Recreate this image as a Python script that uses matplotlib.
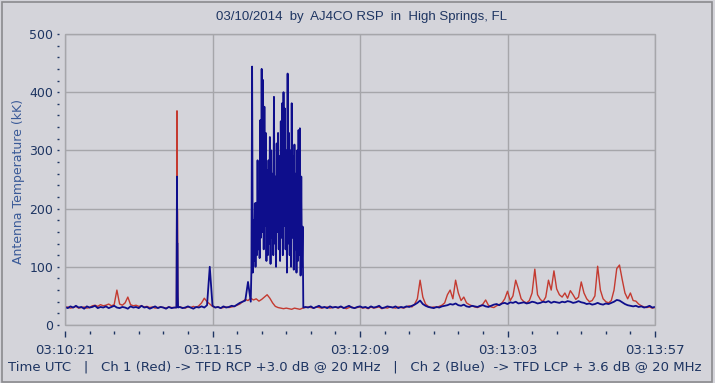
import numpy as np
import matplotlib
matplotlib.use('Agg')
import matplotlib.pyplot as plt
from matplotlib.patches import Rectangle
from matplotlib.ticker import MultipleLocator

# --- data: seconds after 03:10:21 UTC, 1 s grid ---
grid_t = np.arange(0, 217)

ch1_red = [
    30, 31, 29, 30, 32, 29, 30, 31, 29, 30,
    33, 34, 32, 35, 33, 34, 36, 33, 35, 60,
    36, 34, 38, 48, 35, 33, 34, 32, 33, 31,
    32, 30, 31, 29, 30, 31, 30, 29, 31, 30,
    30, 31, 31, 30, 29, 31, 30, 32, 30, 33,
    38, 46, 40, 36, 32, 30, 31, 29, 30, 31,
    30, 31, 32, 34, 36, 40, 44, 42, 46, 43,
    45, 41, 44, 48, 52, 46, 38, 32, 30, 29,
    28, 29, 28, 27, 29, 28, 27, 29, 30, 31,
    30, 29, 31, 30, 29, 30, 31, 29, 30, 31,
    29, 31, 30, 28, 30, 31, 29, 30, 31, 29,
    30, 28, 31, 29, 30, 31, 28, 30, 29, 31,
    30, 29, 31, 30, 29, 31, 33, 31, 36, 45,
    77, 48, 36, 32, 30, 31, 30, 32, 34, 38,
    52, 60, 45, 77, 55, 42, 48, 38, 35, 33,
    31, 30, 32, 36, 43, 34, 31, 30, 33, 35,
    38, 45, 58, 42, 50, 77, 62, 45, 40, 38,
    42, 55, 96, 52, 44, 40, 48, 77, 60, 93,
    62, 52, 48, 55, 46, 59, 52, 44, 48, 74,
    55, 45, 40, 42, 50, 101, 60, 45, 40, 38,
    42, 60, 97, 103, 78, 55, 45, 55, 42, 41,
    36, 33, 31, 30, 31, 29, 30,
]

ch2_blue = [
    31, 29, 32, 30, 33, 30, 31, 28, 32, 30,
    31, 33, 29, 31, 30, 32, 29, 31, 33, 30,
    29, 31, 30, 28, 32, 30, 31, 29, 33, 30,
    31, 28, 30, 32, 29, 31, 30, 28, 31, 29,
    30, 31, 31, 29, 30, 32, 30, 28, 31, 30,
    32, 30, 34, 100, 33, 30, 31, 29, 32, 30,
    31, 33, 32, 35, 38, 40, 42, 74, 40, 40,
    40, 40, 40, 40, 40, 40, 40, 40, 40, 40,
    40, 40, 40, 40, 40, 40, 40, 40, 31, 30,
    32, 29, 31, 33, 30, 31, 29, 32, 30, 31,
    30, 32, 29, 31, 33, 30, 29, 31, 32, 30,
    31, 29, 32, 30, 31, 33, 29, 30, 32, 31,
    30, 32, 29, 31, 30, 32, 31, 33, 35, 38,
    42, 36, 33, 31, 30, 29, 31, 30, 32, 33,
    34, 36, 35, 37, 34, 33, 35, 32, 31, 33,
    32, 31, 33, 34, 32, 31, 33, 35, 36, 34,
    37, 38, 36, 39, 38, 40, 37, 38, 39, 37,
    38, 40, 39, 37, 38, 40, 39, 41, 38, 40,
    39, 38, 40, 39, 41, 40, 38, 39, 41, 39,
    38, 36, 37, 35, 36, 38, 36, 35, 37, 36,
    38, 40, 43, 42, 39, 36, 34, 33, 32, 33,
    31, 32, 30, 31, 33, 30, 31,
]

# fine-sampled events (override the 1 s grid inside their windows)
spike_t = [40.8, 40.9, 41.0, 41.1, 41.2, 41.3, 41.4]
spike_red = [30, 200, 368, 200, 195, 60, 31]
spike_blue = [30, 140, 255, 140, 140, 50, 30]

burst_t = np.arange(68.0, 87.5, 0.25)
burst_blue = [
    40, 95, 444, 90, 180, 110, 209, 100, 210, 120, 283, 130,
    230, 115, 352, 150, 440, 160, 421, 130, 375, 170, 330, 110,
    266, 120, 283, 140, 323, 105, 300, 150, 260, 120, 392, 140,
    255, 100, 312, 160, 330, 130, 290, 110, 350, 150, 381, 120,
    400, 170, 372, 130, 300, 90, 432, 140, 330, 120, 300, 100,
    381, 150, 290, 95, 310, 130, 260, 90, 300, 110, 335, 120,
    338, 85, 255, 100, 169, 30,
]

x_labels = ['03:10:21', '03:11:15', '03:12:09', '03:13:03', '03:13:57']

BG = '#D4D4DA'
NAVY = '#1E3562'
GRID = '#A6A6AA'


def merge(t_base, v_base, events):
    t = np.asarray(t_base, float)
    v = np.asarray(v_base, float)
    for et, ev in events:
        et = np.asarray(et, float)
        keep = (t < et.min()) | (t > et.max())
        t = np.concatenate([t[keep], et])
        v = np.concatenate([v[keep], np.asarray(ev, float)])
        order = np.argsort(t, kind='stable')
        t, v = t[order], v[order]
    return t, v


t_red, v_red = merge(grid_t, ch1_red, [(spike_t, spike_red)])
t_blue, v_blue = merge(grid_t, ch2_blue, [(spike_t, spike_blue), (burst_t, burst_blue)])

fig = plt.figure(figsize=(7.15, 3.83), dpi=100, facecolor=BG)
ax = fig.add_axes([65 / 715, 58 / 383, 590 / 715, 291 / 383])
ax.set_facecolor(BG)

ax.plot(t_red, v_red, color='#C43A30', lw=1.0, zorder=3)
ax.plot(t_blue, v_blue, color='#0E0E8C', lw=1.3, zorder=4)

ax.set_xlim(0, 216)
ax.set_ylim(0, 500)
ax.set_xticks([0, 54, 108, 162, 216])
ax.set_xticklabels(x_labels)
ax.xaxis.set_minor_locator(MultipleLocator(9))
ax.set_yticks(range(0, 501, 100))
ax.yaxis.set_minor_locator(MultipleLocator(20))
ax.grid(which='major', color=GRID, lw=1.0, zorder=1)

# ticks sit a few pixels away from the plot frame
for side in ['left', 'bottom']:
    ax.spines[side].set_position(('outward', 4))
for s in ax.spines.values():
    s.set_visible(False)
ax.add_patch(Rectangle((0, 0), 1, 1, transform=ax.transAxes, fill=False,
                       ec=GRID, lw=1.0, clip_on=False, zorder=5))

ax.tick_params(axis='x', which='major', direction='out', length=4, width=1,
               color=NAVY, pad=6, labelsize=9.5, labelcolor=NAVY)
ax.tick_params(axis='x', which='minor', direction='out', length=2, width=1,
               color=NAVY)
ax.tick_params(axis='y', which='major', direction='out', length=1.5, width=1,
               color=NAVY, pad=3, labelsize=9, labelcolor=NAVY)
ax.tick_params(axis='y', which='minor', direction='out', length=1.8, width=1,
               color=NAVY)

fig.text(0.505, 0.956, '03/10/2014  by  AJ4CO RSP  in  High Springs, FL',
         ha='center', va='center', fontsize=9.5, color=NAVY, family='Liberation Sans')
fig.text(19 / 715, 0.525, 'Antenna Temperature (kK)', rotation=90,
         ha='center', va='center', fontsize=9, color='#3A5A98')
fig.text(8 / 715, 1 - 367 / 383,
         'Time UTC   |   Ch 1 (Red) -> TFD RCP +3.0 dB @ 20 MHz   |   '
         'Ch 2 (Blue)  -> TFD LCP + 3.6 dB @ 20 MHz',
         ha='left', va='center', fontsize=9.55, color=NAVY)

fig.patches.append(Rectangle((2 / 715, 1 / 383), 710 / 715, 380 / 383,
                             transform=fig.transFigure, fill=False,
                             ec='#8A8A8E', lw=1.2))

fig.savefig('out.png', dpi=100, facecolor=BG)
